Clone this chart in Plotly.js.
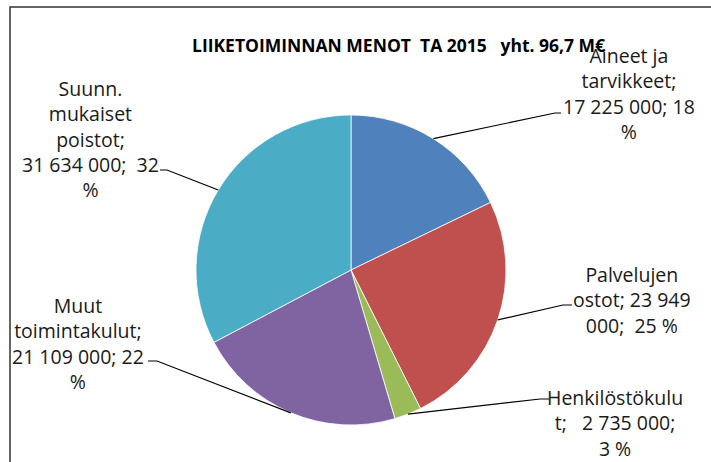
<!DOCTYPE html>
<html>
<head>
<meta charset="utf-8">
<script src="https://cdn.plot.ly/plotly-3.0.1.min.js"></script>
<style>html,body{margin:0;padding:0;background:#fff;}#chart{width:711px;height:462px;}</style>
</head>
<body>
<div id="chart"></div>
<script>
// ---- data ----
const categories = ["Aineet ja tarvikkeet", "Palvelujen ostot", "Henkilöstökulut", "Muut toimintakulut", "Suunn. mukaiset poistot"];
const values = [17225000, 23949000, 2735000, 21109000, 31634000];
const colors = ["#4F81BD", "#C0504D", "#9BBB59", "#8064A2", "#4BACC6"];
const labelTexts = [
  "Aineet ja<br>tarvikkeet;<br>17 225 000; 18<br>%",
  "Palvelujen<br>ostot; 23 949<br>000;\u00a0 25 %",
  "Henkilöstökulu<br>t;\u00a0\u00a0 2 735 000;<br>3 %",
  "Muut<br>toimintakulut;<br>21 109 000; 22<br>%",
  "Suunn.<br>mukaiset<br>poistot;<br>31 634 000;\u00a0 32<br>%"
];
const titleText = "<b>LIIKETOIMINNAN MENOT\u00a0 TA 2015\u00a0\u00a0 yht. 96,7 M€</b>";

// ---- layout (pixel space) ----
const W = 711, H = 462;
const cx = 351, cy = 270, R = 155;
const labelPos = [[629, 93], [632, 300], [615, 423], [78, 343], [90, 139]];
const elbows = [[[555, 113], [561, 113]], [[563, 305], [572, 305]], [[540, 399], [549, 399]], [[157, 361], [148, 361]], [[167, 170], [160, 170]]];

const total = values.reduce((a, b) => a + b, 0);
let cum = 0;
const shapes = [];
const annotations = [];
values.forEach((v, i) => {
  const mid = (cum + v / 2) / total * 2 * Math.PI;
  cum += v;
  const sx = cx + R * Math.sin(mid), sy = cy - R * Math.cos(mid);
  const e = elbows[i];
  shapes.push({type: "path", xref: "x", yref: "y",
    path: `M${sx},${sy} L${e[0][0]},${e[0][1]} L${e[1][0]},${e[1][1]}`,
    line: {color: "#000", width: 1.2}});
  annotations.push({x: labelPos[i][0], y: labelPos[i][1], xref: "x", yref: "y",
    text: labelTexts[i], showarrow: false, xanchor: "center", yanchor: "middle", align: "center",
    font: {family: "Open Sans", size: 19.5, color: "#1a1a1a"}});
});
annotations.push({x: 398, y: 45, xref: "x", yref: "y", text: titleText, showarrow: false,
  xanchor: "center", yanchor: "middle", font: {family: "Open Sans", size: 17.5, color: "#000"}});
// frame
shapes.push({type: "path", xref: "x", yref: "y", path: `M10,${H} L10,7 L${W},7`, line: {color: "#333", width: 1.5}});

const trace = {
  type: "pie", labels: categories, values: values, sort: false, direction: "clockwise", rotation: 0,
  marker: {colors: colors, line: {color: "#fff", width: 0.8}},
  textinfo: "none", hoverinfo: "label+value+percent",
  domain: {x: [(cx - R) / W, (cx + R) / W], y: [1 - (cy + R) / H, 1 - (cy - R) / H]},
  showlegend: false
};

const layout = {
  width: W, height: H, margin: {l: 0, r: 0, t: 0, b: 0},
  paper_bgcolor: "#fff", plot_bgcolor: "rgba(0,0,0,0)",
  xaxis: {range: [0, W], visible: false, fixedrange: true},
  yaxis: {range: [H, 0], visible: false, fixedrange: true},
  shapes: shapes, annotations: annotations, showlegend: false
};
Plotly.newPlot("chart", [trace], layout, {staticPlot: true});
</script>
</body>
</html>
